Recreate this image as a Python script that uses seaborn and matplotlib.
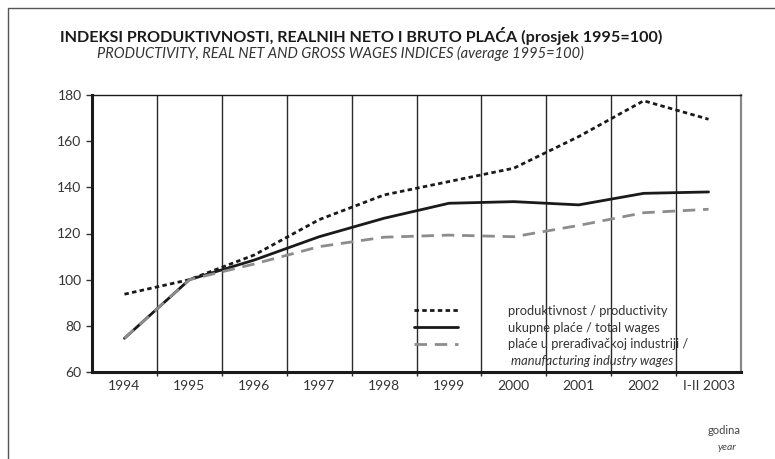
import matplotlib
matplotlib.use("Agg")
import matplotlib.pyplot as plt
from matplotlib.lines import Line2D
import seaborn as sns
import pandas as pd

# Podaci (ocitano sa slike)
years = ["1994", "1995", "1996", "1997", "1998", "1999", "2000", "2001", "2002", "I-II 2003"]
productivity = [93.7, 100, 110.7, 126.0, 136.7, 142.5, 148.3, 162.0, 177.5, 169.5]
total_wages = [74.6, 100, 108.5, 118.6, 126.6, 133.1, 133.8, 132.4, 137.4, 138.0]
manufacturing_wages = [74.6, 100, 106.8, 114.3, 118.4, 119.3, 118.6, 123.5, 129.0, 130.5]

labels = ["produktivnost / productivity",
          "ukupne plaće / total wages",
          "plaće u prerađivačkoj industriji /"]

sns.set_style("white")
plt.rcParams['font.family'] = ['Lato', 'DejaVu Sans']

df = pd.DataFrame({"year": years, "prod": productivity,
                   "total": total_wages, "manuf": manufacturing_wages})

fig = plt.figure(figsize=(7.75, 4.59), dpi=100)
ax = fig.add_axes([92 / 775, 1 - 372 / 459, 649 / 775, 277 / 459])

sns.lineplot(data=df, x="year", y="prod", ax=ax, color="#1a1a1a", lw=2,
             linestyle=(0, (1.6, 1.2)), sort=False)
sns.lineplot(data=df, x="year", y="total", ax=ax, color="#1a1a1a", lw=2, sort=False)
sns.lineplot(data=df, x="year", y="manuf", ax=ax, color="#8c8c8c", lw=2,
             linestyle=(0, (4.5, 2.8)), sort=False)

ax.set_xlim(-0.5, len(years) - 0.5)
ax.set_ylim(60, 180)
ax.set_yticks(range(60, 181, 20))
ax.set_xlabel("")
ax.set_ylabel("")

# vertikalne linije izmedju godina
for i in range(len(years) - 1):
    ax.axvline(i + 0.5, color="#2a2a2a", lw=1, zorder=0)
ax.set_xticks([i + 0.5 for i in range(len(years) - 1)], minor=True)
ax.tick_params(axis="x", which="minor", length=3, width=1, color="#2a2a2a", bottom=True)
ax.tick_params(axis="x", which="major", length=0, labelsize=10, labelcolor="#333333", pad=6)
ax.tick_params(axis="y", length=4, width=1, color="#333333", labelsize=10,
               labelcolor="#333333", left=True)

for side in ["left", "bottom"]:
    ax.spines[side].set_linewidth(2.2)
    ax.spines[side].set_color("#1a1a1a")
ax.spines["top"].set_linewidth(1)
ax.spines["top"].set_color("#1a1a1a")
ax.spines["right"].set_linewidth(1.6)
ax.spines["right"].set_color("#888888")

handles = [Line2D([], [], color="#1a1a1a", lw=2, linestyle=(0, (1.6, 1.2))),
           Line2D([], [], color="#1a1a1a", lw=2),
           Line2D([], [], color="#8c8c8c", lw=2, linestyle=(0, (4.5, 2.8))),
           Line2D([], [], color="none")]
leg = ax.legend(handles, labels + [" manufacturing industry wages"],
                loc="lower left", bbox_to_anchor=(0.488, 0.0), frameon=False,
                fontsize=9.3, handlelength=3.4, handletextpad=3.9,
                labelspacing=0.36, borderaxespad=0)
for t in leg.get_texts():
    t.set_color("#333333")
leg.get_texts()[3].set_style("italic")

fig.text(60 / 775, 1 - 36 / 459,
         "INDEKSI PRODUKTIVNOSTI, REALNIH NETO I BRUTO PLAĆA (prosjek 1995=100)",
         fontsize=11.6, fontweight="bold", color="#1a1a1a", va="center")
fig.text(97 / 775, 1 - 53 / 459,
         "PRODUCTIVITY, REAL NET AND GROSS WAGES INDICES (average 1995=100)",
         fontsize=10.5, style="italic", color="#333333", va="center")
fig.text(724 / 775, 1 - 431 / 459, "godina", fontsize=8, color="#444444",
         ha="center", va="center")
fig.text(727 / 775, 1 - 447 / 459, "year", fontsize=7.5, style="italic",
         color="#444444", ha="center", va="center")

# okvir slike (gore i lijevo)
fig.add_artist(Line2D([8 / 775, 8 / 775, 1], [0, 1 - 8 / 459, 1 - 8 / 459],
                      transform=fig.transFigure, color="#555555", lw=1))

fig.savefig("out.png", dpi=100)
